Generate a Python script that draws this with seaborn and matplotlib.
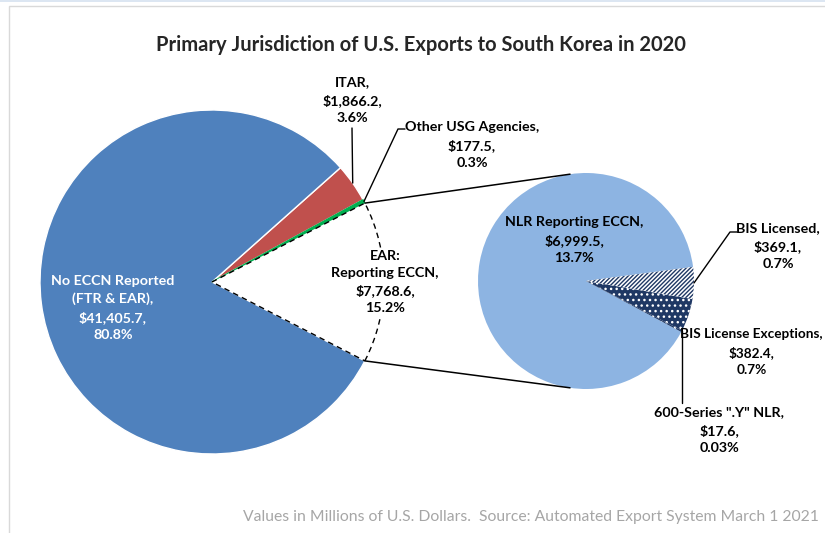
import numpy as np
import matplotlib
matplotlib.use("Agg")
import matplotlib.pyplot as plt
import seaborn as sns
from matplotlib.patches import Rectangle

sns.set_theme(style="white")
plt.rcParams["font.family"] = ["Lato", "DejaVu Sans"]
plt.rcParams["hatch.linewidth"] = 1.0

# primary pie (millions of USD)
main_labels = ["EAR:\nReporting ECCN", "Other USG Agencies", "ITAR", "No ECCN Reported\n(FTR & EAR)"]
main_values = [7768.6, 177.5, 1866.2, 41405.7]
main_pcts = ["15.2%", "0.3%", "3.6%", "80.8%"]
main_colors = ["white", "#00B050", "#C0504D", "#4F81BD"]

# breakdown of EAR: Reporting ECCN
sub_labels = ["NLR Reporting ECCN", "600-Series \".Y\" NLR", "BIS License Exceptions", "BIS Licensed"]
sub_values = [6999.5, 17.6, 382.4, 369.1]
sub_pcts = ["13.7%", "0.03%", "0.7%", "0.7%"]
sub_colors = ["#8DB4E2", "#1F3864", "#1F3864", "white"]

W, H = 825, 533
fig = plt.figure(figsize=(W / 100, H / 100), dpi=100)
ax = fig.add_axes([0, 0, 1, 1])


def Y(y):
    # image row -> data y
    return H - y


def fmt(v):
    return f"${v:,.1f}"


def txt(i, labels, values, pcts):
    return f"{labels[i]},\n{fmt(values[i])},\n{pcts[i]}"


# left pie
cL, rL = (212, Y(282)), 172
ear_ang = main_values[0] / sum(main_values) * 360
wl, _ = ax.pie(main_values, colors=main_colors, center=cL, radius=rL,
               startangle=-ear_ang / 2, counterclock=True,
               wedgeprops=dict(edgecolor="white", linewidth=1))
wl[0].set_edgecolor("black")
wl[0].set_linestyle((0, (4, 3)))
wl[0].set_linewidth(1)
wl[0].set_zorder(2)
wl[1].set_edgecolor(main_colors[1])
wl[1].set_zorder(1.5)

# right pie
cR, rR = (586, Y(281)), 108
wr, _ = ax.pie(sub_values, colors=sub_colors, center=cR, radius=rR,
               startangle=7.5, counterclock=True,
               wedgeprops=dict(edgecolor="white", linewidth=0))
wr[3].set_hatch("////////")
wr[3].set_edgecolor("#1F3864")
wr[2].set_hatch("...")
wr[2].set_edgecolor("white")
wr[1].set_hatch("...")
wr[1].set_edgecolor("white")


def on_arc(c, r, deg):
    a = np.deg2rad(deg)
    return c[0] + r * np.cos(a), c[1] + r * np.sin(a)


def mid(w):
    return (w.theta1 + w.theta2) / 2


# connector lines between pies
for s in (1, -1):
    p0 = on_arc(cL, rL, s * ear_ang / 2)
    p1 = on_arc(cR, rR, s * 98.5)
    ax.plot([p0[0], p1[0]], [p0[1], p1[1]], color="black", lw=1.1)

lab = dict(fontsize=10.3, fontweight="bold", ha="center", va="center",
           linespacing=1.5, color="black", zorder=5)

# labels, main pie
ax.text(113, Y(308), txt(3, main_labels, main_values, main_pcts), **{**lab, "color": "white"})
ax.text(385, Y(282), txt(0, main_labels, main_values, main_pcts),
        bbox=dict(facecolor="white", edgecolor="none", pad=1), **lab)
ax.text(352, Y(100), txt(2, main_labels, main_values, main_pcts), **lab)
p = on_arc(cL, rL, mid(wl[2]))
ax.plot([352, p[0]], [Y(128), p[1]], color="black", lw=1)
ax.text(472, Y(145), txt(1, main_labels, main_values, main_pcts), **lab)
p = on_arc(cL, rL, mid(wl[1]))
ax.plot([p[0], 398, 405], [p[1], Y(129), Y(129)], color="black", lw=1)

# labels, sub pie
ax.text(574, Y(240), txt(0, sub_labels, sub_values, sub_pcts), **lab)
ax.text(778, Y(246), txt(3, sub_labels, sub_values, sub_pcts), **lab)
p = on_arc(cR, rR, mid(wr[3]))
ax.plot([p[0], 730, 737], [p[1], Y(232), Y(232)], color="black", lw=1)
ax.text(823, Y(352), txt(2, sub_labels, sub_values, sub_pcts),
        **{**lab, "ha": "right", "multialignment": "center", "fontsize": 9.8})
ax.text(719, Y(430), txt(1, sub_labels, sub_values, sub_pcts), **lab)
p = on_arc(cR, rR, mid(wr[1]))
ax.plot([p[0], p[0]], [p[1], Y(403)], color="black", lw=1)

ax.text(421, Y(45), "Primary Jurisdiction of U.S. Exports to South Korea in 2020",
        fontsize=14.5, fontweight="bold", ha="center", va="center")
ax.text(819, Y(517),
        "Values in Millions of U.S. Dollars.  Source: Automated Export System March 1 2021",
        fontsize=11.3, color="#A6A6A6", ha="right", va="center")

# chart frame
ax.add_patch(Rectangle((9, -10), W, Y(6) + 10, fill=False, edgecolor="#D9D9D9", lw=1))
ax.add_patch(Rectangle((0, Y(2)), W, 3, color="#DCE6F2", lw=0))

ax.set_xlim(0, W)
ax.set_ylim(0, H)
ax.set_aspect("equal")
ax.axis("off")
fig.savefig("out.png", dpi=100)
